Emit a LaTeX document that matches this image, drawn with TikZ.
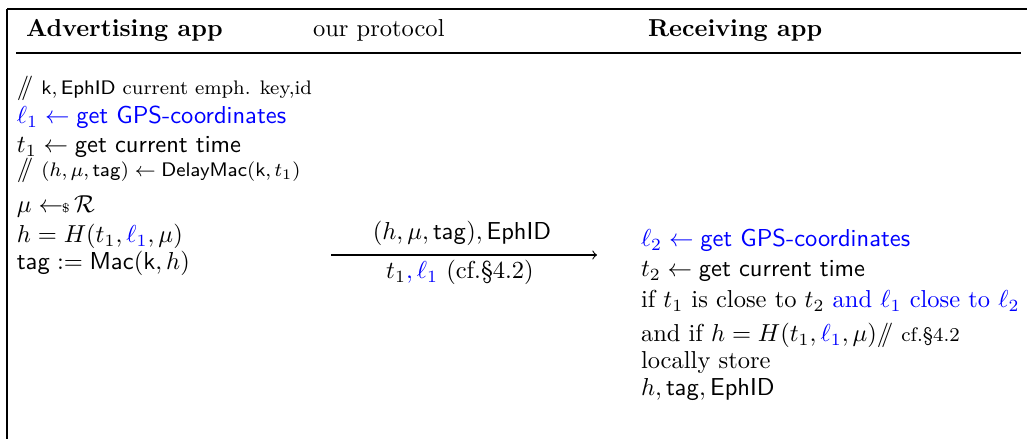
\documentclass[tikz,border=0pt]{standalone}
\usepackage{amsmath,amssymb}
\newcommand{\cmt}{\ensuremath{/\!\!/}}
\newcommand{\sfm}[1]{\mathsf{#1}}
\begin{document}
\begin{tikzpicture}[x=0.408pt,y=-0.408pt,
  txt/.style={anchor=base west,inner sep=0pt,outer sep=0pt},
  ctxt/.style={anchor=base,inner sep=0pt,outer sep=0pt},
  rulethick/.style={line width=0.7pt},
  rulethin/.style={line width=0.45pt}]
\useasboundingbox (0,0) rectangle (1027,439);
% frame rules
\coordinate (tl) at (7,9);
\coordinate (tr) at (1027,9);
\coordinate (bl) at (7,439);
\coordinate (hl) at (16,53);
\coordinate (hr) at (1021,53);
\draw[rulethick] (tl) -- (tr);
\draw[rulethin] (tl) -- (bl);
\draw[rulethin] (hl) -- (hr);
% headers
\node[txt] (h1) at (26,37) {\textbf{Advertising app}};
\node[txt] (h2) at (313,37) {our protocol};
\node[txt] (h3) at (648,37) {\textbf{Receiving app}};
% left column
\node[txt] (l1) at (17,95) {\cmt\ {\footnotesize $\sfm{k},\sfm{EphID}$ current emph. key,id}};
\node[txt] (l2) at (17,123.5) {\color{blue}$\ell_1\leftarrow{}$\textsf{get GPS-coordinates}};
\node[txt] (l3) at (17,152.5) {$t_1\leftarrow{}$\textsf{get current time}};
\node[txt] (l4) at (17,177) {\cmt\ {\footnotesize $(h,\mu,\sfm{tag})\leftarrow\sfm{DelayMac}(\sfm{k},t_1)$}};
\node[txt] (l5) at (17,213) {$\mu\leftarrow\!\!{\scriptscriptstyle\$}\,\mathcal{R}$};
\node[txt] (l6) at (17,242.5) {$h=H(t_1,\textcolor{blue}{\ell_1},\mu)$};
\node[txt] (l7) at (17,270) {$\sfm{tag}:=\sfm{Mac}(\sfm{k},h)$};
% arrow
\coordinate (a1) at (331,255);
\coordinate (a2) at (597,255);
\draw[->,line width=0.45pt] (a1) -- (a2);
\node[ctxt] (m1) at (462,240) {$(h,\mu,\sfm{tag}),\sfm{EphID}$};
\node[ctxt] (m2) at (460,278.5) {$t_1$\textcolor{blue}{$,\ell_1$} (cf.\S4.2)};
% right column
\node[txt] (r1) at (641,246.5) {\color{blue}$\ell_2\leftarrow{}$\textsf{get GPS-coordinates}};
\node[txt] (r2) at (641,277) {$t_2\leftarrow{}$\textsf{get current time}};
\node[txt] (r3) at (641,307.5) {if $t_1$ is close to $t_2$ \textcolor{blue}{and $\ell_1$ close to $\ell_2$}};
\node[txt] (r4) at (641,341.5) {and if $h=H(t_1,\textcolor{blue}{\ell_1},\mu)$\cmt\ {\footnotesize cf.\S4.2}};
\node[txt] (r5) at (641,368.5) {locally store};
\node[txt] (r6) at (641,396) {$h,\sfm{tag},\sfm{EphID}$};
\end{tikzpicture}
\end{document}
